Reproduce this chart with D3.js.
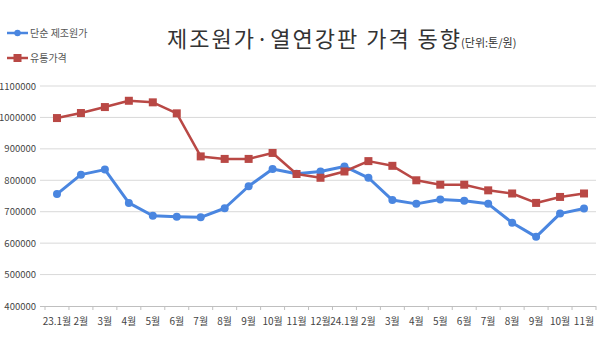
<!DOCTYPE html>
<html>
<head>
<meta charset="utf-8">
<script src="https://cdn.jsdelivr.net/npm/d3@7"></script>
<style>
  html, body { margin: 0; padding: 0; background: #fff; }
  svg { display: block; font-family: "Noto Sans CJK KR", "Noto Sans", sans-serif; }
</style>
</head>
<body>
<svg id="chart" width="600" height="338"></svg>
<script>
// Monthly labels, Jan 2023 – Nov 2024
const months = ["23.1월","2월","3월","4월","5월","6월","7월","8월","9월","10월","11월","12월",
                "24.1월","2월","3월","4월","5월","6월","7월","8월","9월","10월","11월"];

// 단순 제조원가 (원/톤)
const costValues = [756000, 818000, 834000, 728000, 687000, 684000, 682000, 711000, 781000, 836000, 821000,
                    828000, 844000, 808000, 737000, 725000, 739000, 735000, 725000, 665000, 620000, 694000, 710000];

// 유통가격 (원/톤)
const priceValues = [998000, 1014000, 1033000, 1053000, 1048000, 1013000, 876000, 868000, 868000, 887000, 820000,
                     808000, 828000, 861000, 846000, 800000, 786000, 786000, 768000, 758000, 728000, 747000, 758000];

const yTicks = [400000, 500000, 600000, 700000, 800000, 900000, 1000000, 1100000];

const seriesNames = ["단순 제조원가", "유통가격"];
const seriesColors = ["#4a86e0", "#b94845"];

const svg = d3.select("#chart");
const plotLeft = 45, plotRight = 596, plotTop = 86, plotBottom = 306;

const x = d3.scaleBand().domain(months.map((m, i) => i)).range([plotLeft, plotRight]);
const y = d3.scaleLinear().domain([400000, 1100000]).range([plotBottom, plotTop]);

// horizontal gridlines
svg.append("g")
  .selectAll("line")
  .data(yTicks.slice(1))
  .join("line")
  .attr("x1", 40).attr("x2", plotRight)
  .attr("y1", d => y(d)).attr("y2", d => y(d))
  .attr("stroke", "#d9d9d9").attr("stroke-width", 1);

// y axis labels
svg.append("g")
  .selectAll("text")
  .data(yTicks)
  .join("text")
  .attr("x", 36).attr("y", d => y(d) + 3.5)
  .attr("text-anchor", "end")
  .attr("font-size", 9.5)
  .attr("fill", "#444")
  .text(d => d);

// x axis
const xAxis = d3.axisBottom(x)
  .tickFormat(i => months[i])
  .tickSize(4)
  .tickSizeOuter(0);
const gx = svg.append("g").attr("transform", `translate(0,${plotBottom})`).call(xAxis);
gx.select(".domain").attr("stroke", "#bfbfbf").attr("d", `M40,0.5H${plotRight}`);
gx.selectAll(".tick line").remove();
// tick marks on band boundaries
gx.selectAll("line.bound")
  .data(d3.range(months.length + 1))
  .join("line")
  .attr("class", "bound")
  .attr("x1", i => plotLeft + i * x.step()).attr("x2", i => plotLeft + i * x.step())
  .attr("y1", 0).attr("y2", 4)
  .attr("stroke", "#bfbfbf");
gx.selectAll(".tick text")
  .attr("y", 12)
  .attr("font-size", 10)
  .attr("fill", "#444")
  .attr("font-family", "\"Noto Sans CJK KR\", sans-serif");

const cx = i => x(i) + x.bandwidth() / 2;
const line = d3.line().x((d, i) => cx(i)).y(d => y(d));

// 단순 제조원가 line
svg.append("path")
  .datum(costValues)
  .attr("d", line)
  .attr("fill", "none")
  .attr("stroke", seriesColors[0])
  .attr("stroke-width", 3)
  .attr("stroke-linejoin", "round");
svg.append("g").selectAll("circle")
  .data(costValues)
  .join("circle")
  .attr("cx", (d, i) => cx(i)).attr("cy", d => y(d))
  .attr("r", 4)
  .attr("fill", seriesColors[0]);

// 유통가격 line
svg.append("path")
  .datum(priceValues)
  .attr("d", line)
  .attr("fill", "none")
  .attr("stroke", seriesColors[1])
  .attr("stroke-width", 2.5)
  .attr("stroke-linejoin", "round");
svg.append("g").selectAll("rect")
  .data(priceValues)
  .join("rect")
  .attr("x", (d, i) => cx(i) - 4).attr("y", d => y(d) - 4)
  .attr("width", 8).attr("height", 8)
  .attr("fill", seriesColors[1]);

// legend
const legend = svg.append("g");
const legendRows = [{ y: 33, shape: "circle" }, { y: 58, shape: "rect" }];
legendRows.forEach((row, k) => {
  legend.append("line")
    .attr("x1", 7).attr("x2", 28).attr("y1", row.y).attr("y2", row.y)
    .attr("stroke", seriesColors[k]).attr("stroke-width", 2.5);
  if (row.shape === "circle") {
    legend.append("circle").attr("cx", 17.5).attr("cy", row.y).attr("r", 3.2).attr("fill", seriesColors[k]);
  } else {
    legend.append("rect").attr("x", 13.5).attr("y", row.y - 4).attr("width", 8).attr("height", 8).attr("fill", seriesColors[k]);
  }
  legend.append("text")
    .attr("x", 30).attr("y", row.y + 3.5)
    .attr("font-size", 10)
    .attr("fill", "#555")
    .text(seriesNames[k]);
});

// title
const title = svg.append("text").attr("x", 167).attr("y", 47).attr("fill", "#333");
title.append("tspan").attr("font-size", 22).attr("letter-spacing", 2).text("제조원가·열연강판 가격 동향");
title.append("tspan").attr("font-size", 11).attr("dx", -1).text("(단위:톤/원)");
</script>
</body>
</html>
